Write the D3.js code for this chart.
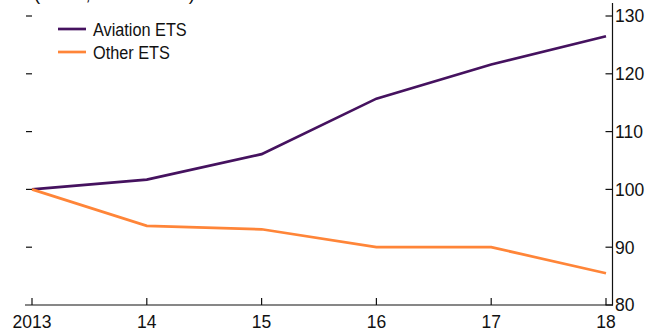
<!DOCTYPE html>
<html><head><meta charset="utf-8">
<script src="https://cdn.jsdelivr.net/npm/d3@7"></script>
<style>body{margin:0;background:#fff}svg{display:block}text{font-family:"Liberation Sans",Arial,sans-serif;fill:#111}</style>
</head><body><svg id="c" width="660" height="333"></svg>
<script>
const years = [2013, 2014, 2015, 2016, 2017, 2018];
const yearLabels = ["2013", "14", "15", "16", "17", "18"];
const aviation = [100, 101.7, 106.1, 115.7, 121.6, 126.5];
const other = [100, 93.7, 93.1, 90.0, 90.0, 85.5];
const yTicks = [80, 90, 100, 110, 120, 130];
const seriesNames = ["Aviation ETS", "Other ETS"];
const colors = ["#45125f", "#ff8538"];
const title = "(Index, 2013 = 100)";

const svg = d3.select("#c");
const x = d3.scaleLinear().domain([2013, 2018]).range([32, 606]);
const y = d3.scaleLinear().domain([80, 130]).range([305, 16]);
const fs = 17.5;
const lfs = 18.5;
const sx = 0.88;

// title (cut off at top, as in the reference)
svg.append("text").attr("x", 34).attr("y", 0).attr("font-size", lfs).text(title);

// bottom axis
const bx = svg.append("g").attr("transform", "translate(0,305)");
bx.append("line").attr("x1", 25).attr("x2", 613).attr("stroke", "#111").attr("stroke-width", 1.2);
bx.selectAll("line.t").data(years).enter().append("line").attr("class", "t")
  .attr("x1", d => x(d)).attr("x2", d => x(d)).attr("y1", 0).attr("y2", -7)
  .attr("stroke", "#111").attr("stroke-width", 1.2);
bx.selectAll("text").data(years).enter().append("text")
  .attr("x", d => x(d)).attr("y", 22.5).attr("text-anchor", "middle").attr("font-size", fs)
  .text((d, i) => yearLabels[i]);

// left ticks
svg.selectAll("line.lt").data(yTicks.filter(d => d > 80)).enter().append("line").attr("class", "lt")
  .attr("x1", 26).attr("x2", 32).attr("y1", d => y(d)).attr("y2", d => y(d))
  .attr("stroke", "#111").attr("stroke-width", 1.2);

// right axis
const ra = svg.append("g").attr("transform", "translate(612.5,0)");
ra.append("line").attr("y1", 3).attr("y2", 305.5).attr("stroke", "#111").attr("stroke-width", 1.2);
ra.selectAll("line.t").data(yTicks).enter().append("line").attr("class", "t")
  .attr("x1", -7).attr("x2", 0).attr("y1", d => y(d)).attr("y2", d => y(d))
  .attr("stroke", "#111").attr("stroke-width", 1.2);
ra.selectAll("text").data(yTicks).enter().append("text")
  .attr("x", 2.5).attr("y", d => y(d)).attr("dy", "0.36em").attr("font-size", fs)
  .text(d => d);

// lines
const line = d3.line().x((d, i) => x(years[i])).y(d => y(d));
[aviation, other].forEach((s, k) => {
  svg.append("path").datum(s).attr("d", line).attr("fill", "none")
    .attr("stroke", colors[k]).attr("stroke-width", 2.7);
});

// legend
seriesNames.forEach((n, k) => {
  const ly = 29 + k * 23;
  svg.append("line").attr("x1", 58).attr("x2", 86).attr("y1", ly).attr("y2", ly)
    .attr("stroke", colors[k]).attr("stroke-width", 2.7);
  svg.append("text").attr("transform", `translate(93,${ly}) scale(${sx},1)`)
    .attr("dy", "0.36em").attr("font-size", lfs).text(n);
});
</script></body></html>
